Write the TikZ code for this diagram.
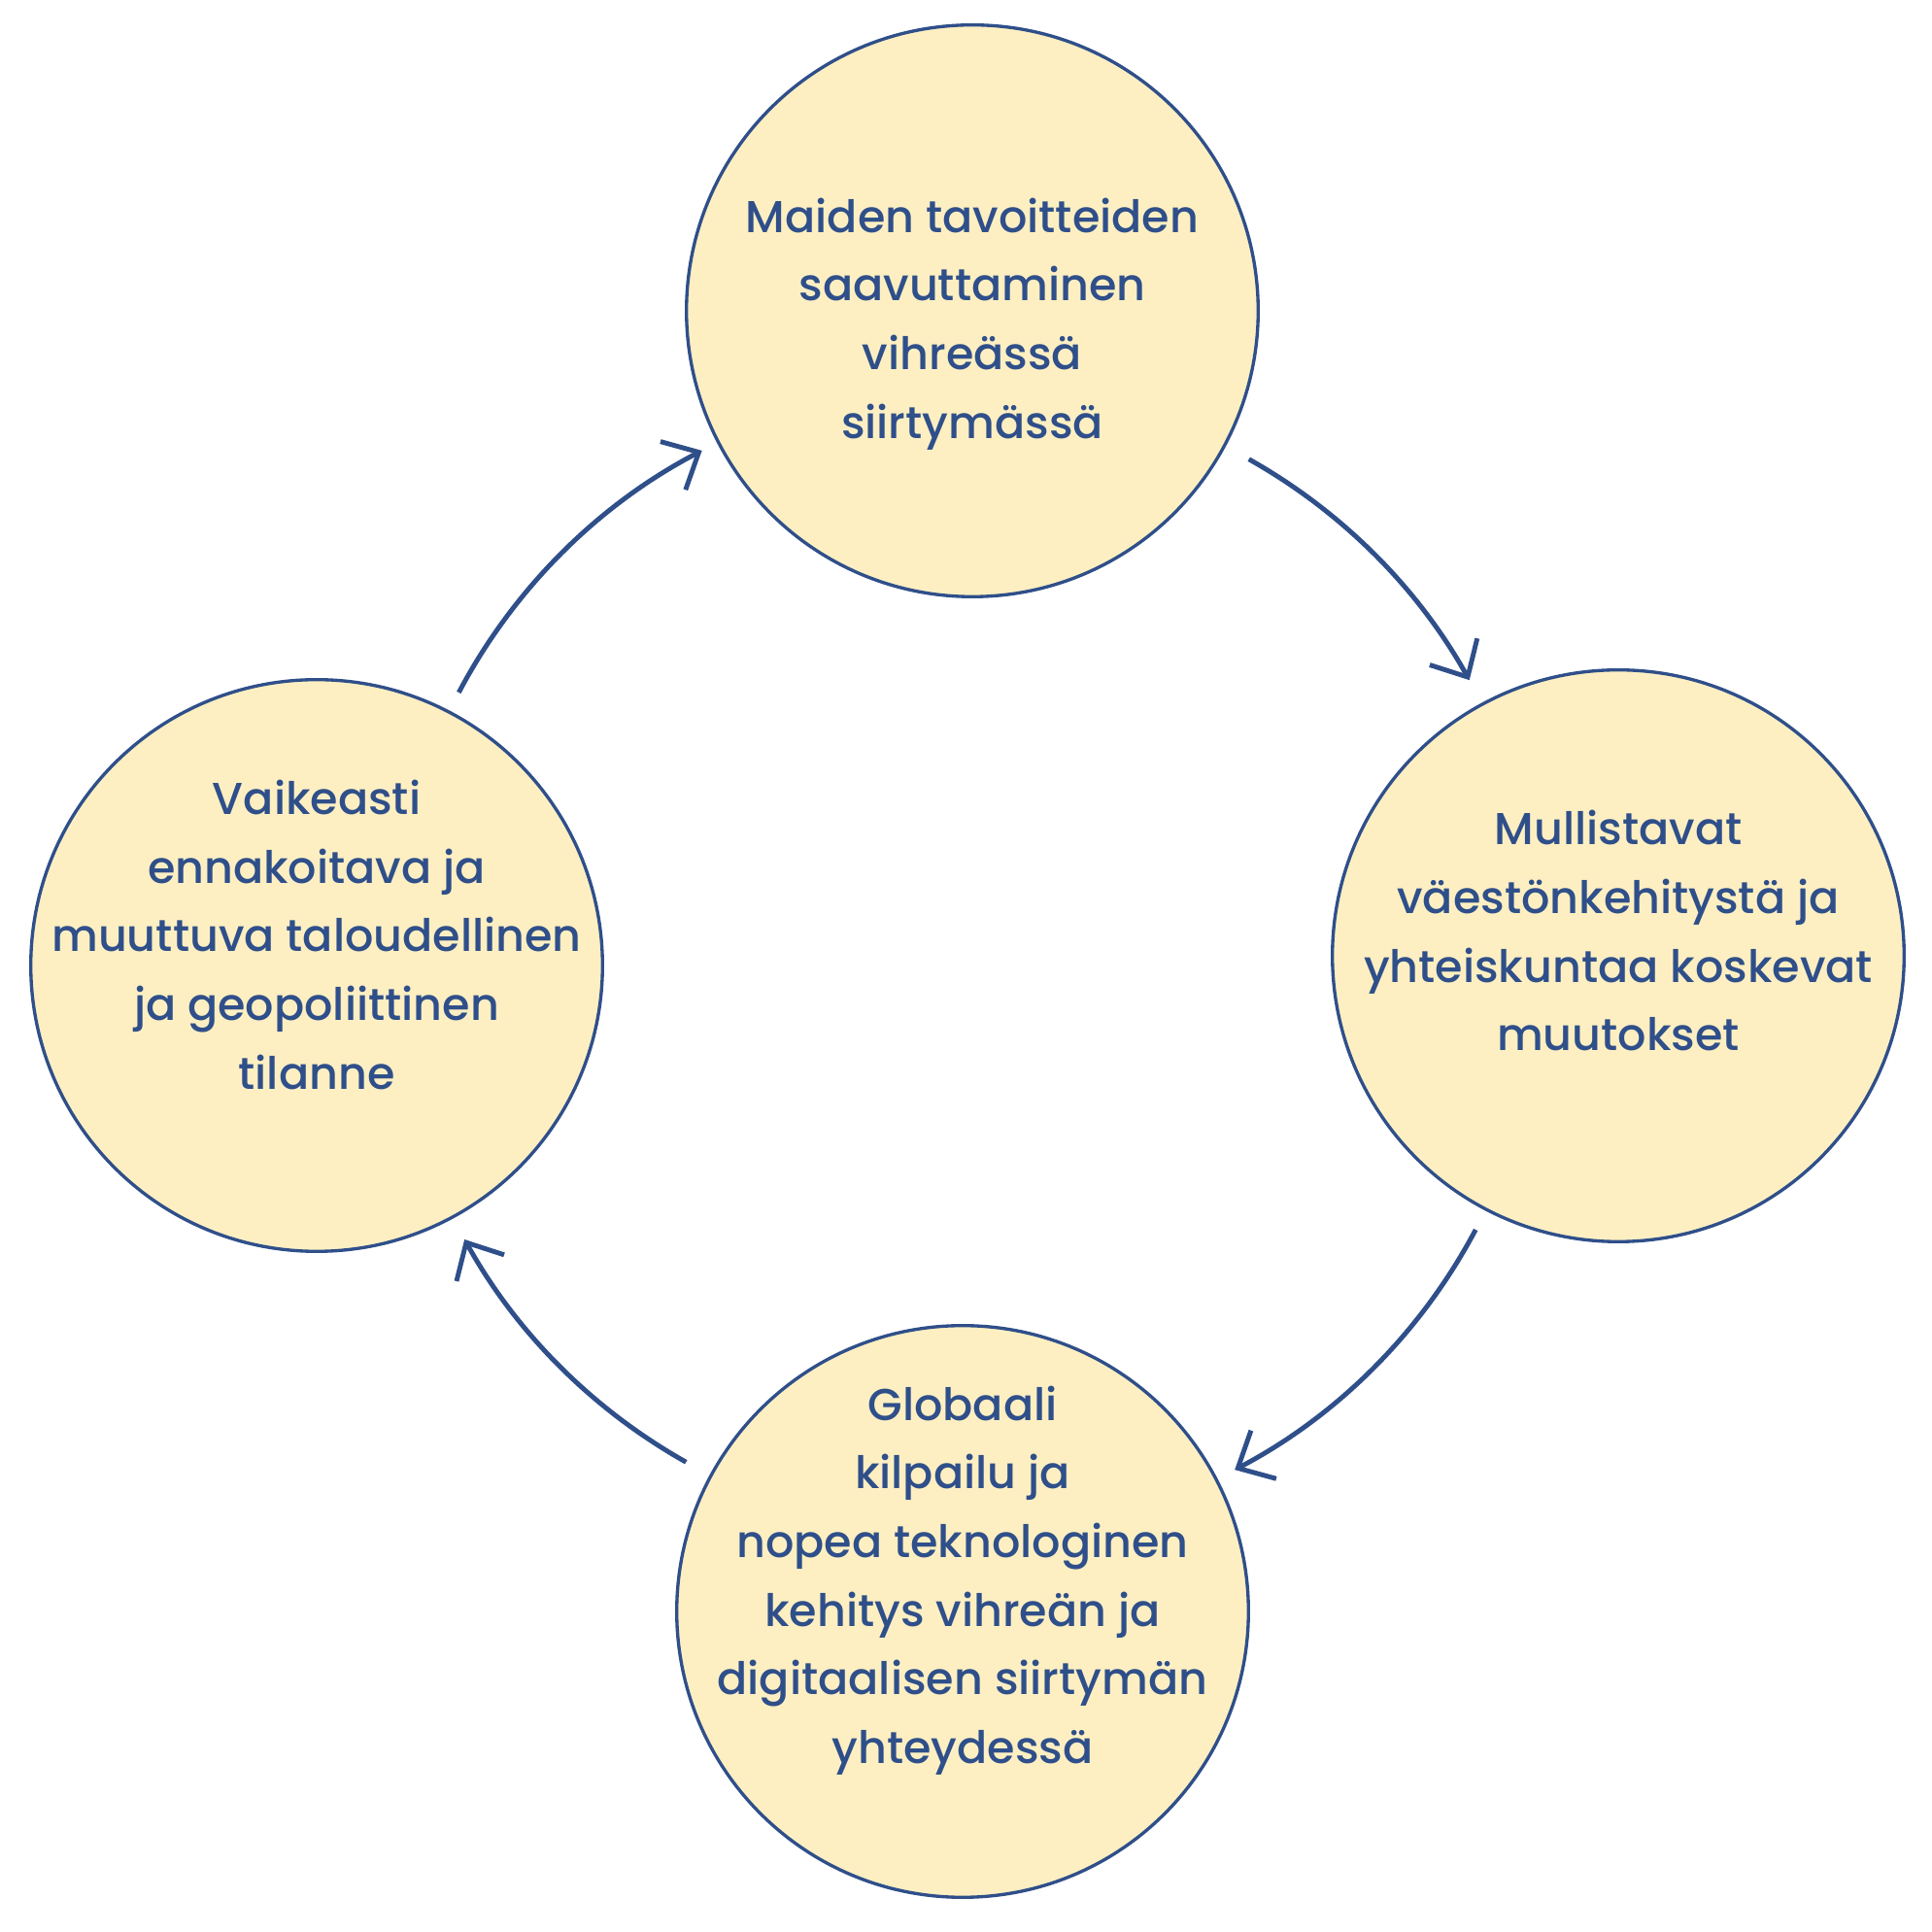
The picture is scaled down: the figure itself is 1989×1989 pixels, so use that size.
\documentclass[tikz,border=0pt]{standalone}
\usepackage{fontspec}
\setmainfont{Poppins Medium}
\usetikzlibrary{positioning,arrows.meta,calc}
\definecolor{navy}{HTML}{2F4F8A}
\definecolor{sand}{HTML}{FDEFC2}
\tikzset{
  % --- the four circles ------------------------------------------------------
  blob/.style={circle,draw=navy,fill=sand,line width=0.95pt,minimum size=58.86mm,
               inner sep=0pt},
  txt/.style={text=navy,align=center,inner sep=0pt,
              font=\fontsize{13.1}{20.1}\selectfont},
  % --- cycle arrows ----------------------------------------------------------
  ar/.style={navy,line width=1.4pt,-{Straight Barb[length=3mm,width=5.6mm]}},
}

\begin{document}
\begin{tikzpicture}[x=0.1mm,y=0.1mm]
  \useasboundingbox (0,0) rectangle (1989,1989);

  \node[blob] (top)    at (1001,1669) {};
  \node[blob] (right)  at (1666,1005) {};
  \node[blob] (bottom) at (991,330)   {};
  \node[blob] (left)   at (326,995)   {};

  \node[txt,yshift=-1.35mm] (toptxt) at (top)
       {Maiden tavoitteiden\\saavuttaminen\\vihreässä\\siirtymässä};
  \node[txt,yshift=2.57mm] (righttxt) at (right)
       {Mullistavat\\väestönkehitystä ja\\yhteiskuntaa koskevat\\muutokset};
  \node[txt,yshift=3.18mm] (bottomtxt) at (bottom)
       {Globaali\\kilpailu ja\\nopea teknologinen\\kehitys vihreän ja\\digitaalisen siirtymän\\yhteydessä};
  \node[txt,yshift=3.17mm] (lefttxt) at (left)
       {Vaikeasti\\ennakoitava ja\\muuttuva taloudellinen\\ja geopoliittinen\\tilanne};

  % arrows run on one ring round the middle of the picture
  \coordinate (mid) at (996,1000);
  \coordinate (a1) at ($(mid)+(60.7:592)$);
  \coordinate (a2) at ($(mid)+(-27.9:592)$);
  \coordinate (a3) at ($(mid)+(240.7:592)$);
  \coordinate (a4) at ($(mid)+(152.2:592)$);

  \draw[ar] (a1) arc[start angle=60.7,end angle=29.2,radius=592];
  \draw[ar] (a2) arc[start angle=-27.9,end angle=-62.3,radius=592];
  \draw[ar] (a3) arc[start angle=240.7,end angle=209,radius=592];
  \draw[ar] (a4) arc[start angle=152.2,end angle=117.5,radius=592];
\end{tikzpicture}
\end{document}
